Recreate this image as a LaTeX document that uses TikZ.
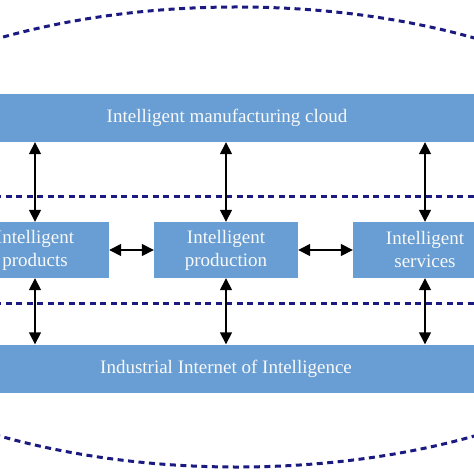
\documentclass[tikz,border=0pt]{standalone}
\usepackage{fontspec}
\setmainfont{Liberation Serif}
\usetikzlibrary{arrows.meta}
\definecolor{boxblue}{RGB}{104,158,211}
\definecolor{navy}{RGB}{26,26,128}

\begin{document}
\begin{tikzpicture}[x=1bp, y=-1bp,
  block/.style={fill=boxblue, text=white!95!gray, inner sep=0pt, align=center,
    font=\fontsize{19bp}{23bp}\selectfont},
  unit/.style={block, minimum width=144bp, minimum height=56bp},
  bar/.style={block, minimum width=560bp, minimum height=48bp},
  link/.style={line width=1.5bp, {Triangle[length=12bp,width=12bp]}-{Triangle[length=12bp,width=12bp]}},
  boundary/.style={navy, line width=3bp, dash pattern=on 6bp off 4.5bp}]
\useasboundingbox (0,0) rectangle (474,474);
\clip (0,0) rectangle (474,474);

%Outer boundary and layer lines
\draw[boundary] (237,237) ellipse [x radius=473, y radius=230];
\draw[boundary] (-5,197) -- (480,197);
\draw[boundary] (-5,303) -- (480,303);

%Layers
\node[bar] (cloud) at (227,118) {Intelligent manufacturing cloud};
\node[unit, minimum width=148bp] (products) at (35,250) {Intelligent\\products};
\node[unit] (production) at (226,250) {Intelligent\\production};
\node[unit] (services) at (425,250) {Intelligent\\services};
\node[bar] (internet) at (226,368.5) {Industrial Internet of Intelligence};

%Links
\draw[link] (cloud.south -| products) -- (products.north);
\draw[link] (cloud.south -| production) -- (production.north);
\draw[link] (cloud.south -| services) -- (services.north);
\draw[link] (products.south) -- (internet.north -| products);
\draw[link] (production.south) -- (internet.north -| production);
\draw[link] (services.south) -- (internet.north -| services);
\draw[link] (products) -- (production);
\draw[link] (production) -- (services);
\end{tikzpicture}
\end{document}
